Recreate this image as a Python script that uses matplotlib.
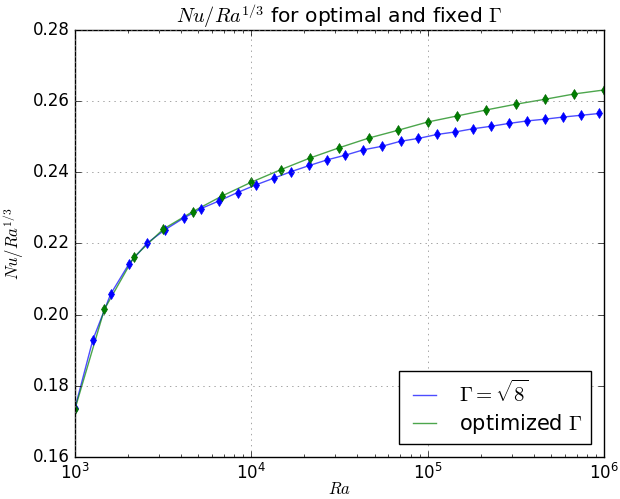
import numpy as np
import matplotlib
matplotlib.use("Agg")
import matplotlib.pyplot as plt

plt.style.use("classic")

# fixed aspect ratio Gamma = sqrt(8)
ra_fixed = [1000, 1262, 1590, 2020, 2568, 3231, 4125, 5197, 6600, 8351,
            10564, 13364, 16904, 21383, 27050, 34215, 43280, 55270, 70200, 88800,
            112800, 142700, 180500, 228300, 288800, 365300, 462100, 587500, 743300, 940600]
nu_fixed = [0.1738, 0.1929, 0.2057, 0.2142, 0.2201, 0.2238, 0.2271, 0.2298, 0.2320, 0.2343,
            0.2364, 0.2383, 0.2402, 0.2419, 0.2435, 0.2448, 0.2463, 0.2473, 0.2487, 0.2495,
            0.2506, 0.2513, 0.2522, 0.2529, 0.2537, 0.2544, 0.2549, 0.2555, 0.2560, 0.2565]

# optimized Gamma
ra_opt = [1000, 1468, 2154, 3162, 4642, 6813, 10000, 14678, 21544, 31623,
          46416, 68129, 100000, 146780, 215443, 316228, 464159, 681292, 1000000]
nu_opt = [0.1735, 0.2015, 0.2161, 0.2240, 0.2289, 0.2333, 0.2372, 0.2407, 0.2440, 0.2469,
          0.2496, 0.2518, 0.2541, 0.2558, 0.2575, 0.2591, 0.2605, 0.2620, 0.2631]

fig = plt.figure(figsize=(6.2, 4.99), dpi=100, facecolor="white")
ax = fig.add_axes([0.121, 0.0842, 0.853, 0.856])

ax.plot(ra_fixed, nu_fixed, color="b", alpha=0.7, lw=1, label=r"$\Gamma = \sqrt{8}$")
ax.plot(ra_opt, nu_opt, color="g", alpha=0.7, lw=1, label=r"optimized $\Gamma$")
ax.plot(ra_fixed, nu_fixed, "d", color="b", mec="b", ms=5, ls="none")
ax.plot(ra_opt, nu_opt, "d", color="g", mec="darkgreen", ms=5, ls="none")

ax.set_xscale("log")
ax.set_xlim(1e3, 1e6)
ax.set_ylim(0.16, 0.28)
ax.grid(True, color="0.5")
ax.set_xlabel(r"$Ra$", labelpad=-2)
ax.set_ylabel(r"$Nu/Ra^{1/3}$")
ax.set_title(r"$Nu/Ra^{1/3}$ for optimal and fixed $\Gamma$", fontsize=14.6)
ax.legend(loc="lower right", fontsize=15, handlelength=1.7, labelspacing=0.3,
          borderaxespad=0.6)

fig.savefig("out.png", dpi=100, facecolor="white")
